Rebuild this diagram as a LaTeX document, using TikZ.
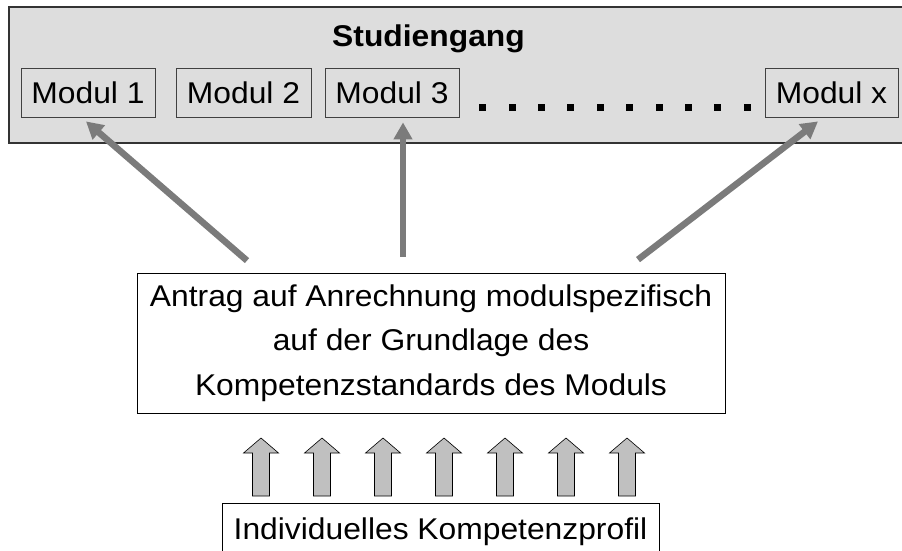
\documentclass[tikz,border=0pt]{standalone}
\usepackage{fontspec}
\setmainfont{Liberation Sans}[FakeStretch=1.06]
\usetikzlibrary{arrows.meta}
\definecolor{boxgray}{HTML}{DDDDDD}
\definecolor{arrowgray}{HTML}{7B7B7B}
\definecolor{blockgray}{HTML}{C0C0C0}
\tikzset{
  pfeil/.style={draw=arrowgray,line width=6.5pt,-{Triangle[width=18pt,length=17pt]}},
  blockpfeil/.style={draw,fill=blockgray,line width=0.6pt}
}
\begin{document}
\begin{tikzpicture}[x=1pt,y=-1pt]
            \useasboundingbox (0,0) rectangle (902,551);

            \node[draw=black!80,fill=boxgray,line width=1.2pt,minimum width=901pt,minimum height=136pt,inner sep=0pt] (studiengang) at (459.5,75) {};
            \node[anchor=base,font=\fontsize{30}{36}\selectfont\bfseries] (titel) at (428.5,47) {Studiengang};

            \begin{scope}[every node/.style={draw=black!75,fill=boxgray,line width=0.8pt,minimum height=49pt,inner sep=0pt,font=\fontsize{30}{36}\selectfont}]
                \node[minimum width=134pt] (m1) at (88,92.5) {Modul 1};
                \node[minimum width=135pt] (m2) at (243.5,92.5) {Modul 2};
                \node[minimum width=134pt] (m3) at (392,92.5) {Modul 3};
                \node[minimum width=133pt] (mx) at (831.5,92.5) {Modul x};
            \end{scope}

            \foreach \i in {0,...,9}
                \fill (479.2+29.4*\i,103.5) rectangle ++(7,7);

            \node[draw,fill=white,line width=0.8pt,minimum width=588pt,minimum height=140pt,inner sep=0pt,align=center,font=\fontsize{30}{44.5}\selectfont] (antrag) at (431,343)
                {Antrag auf Anrechnung modulspezifisch\\auf der Grundlage des\\Kompetenzstandards des Moduls};

            \node[draw,line width=0.8pt,minimum width=437pt,minimum height=57pt,inner sep=0pt,anchor=north,text height=21pt,text depth=6pt,font=\fontsize{30}{36}\selectfont] (profil) at (440.5,503) {Individuelles Kompetenzprofil};

            \foreach \i in {0,...,6}
                \draw[blockpfeil] (252.5+61*\i,496) -- ++(0,-43) -- ++(-9,0) -- ++(17.5,-15) -- ++(17.5,15) -- ++(-9,0) -- ++(0,43) -- cycle;

            \draw[pfeil] ([xshift=-184pt,yshift=12pt]antrag.north) -- ([xshift=-2pt,yshift=-4pt]m1.south);
            \draw[pfeil] ([xshift=-28pt,yshift=16pt]antrag.north) -- ([xshift=11pt,yshift=-5pt]m3.south);
            \draw[pfeil] ([xshift=207pt,yshift=13pt]antrag.north) -- ([xshift=-13.5pt,yshift=-4pt]mx.south);
        \end{tikzpicture}
\end{document}
